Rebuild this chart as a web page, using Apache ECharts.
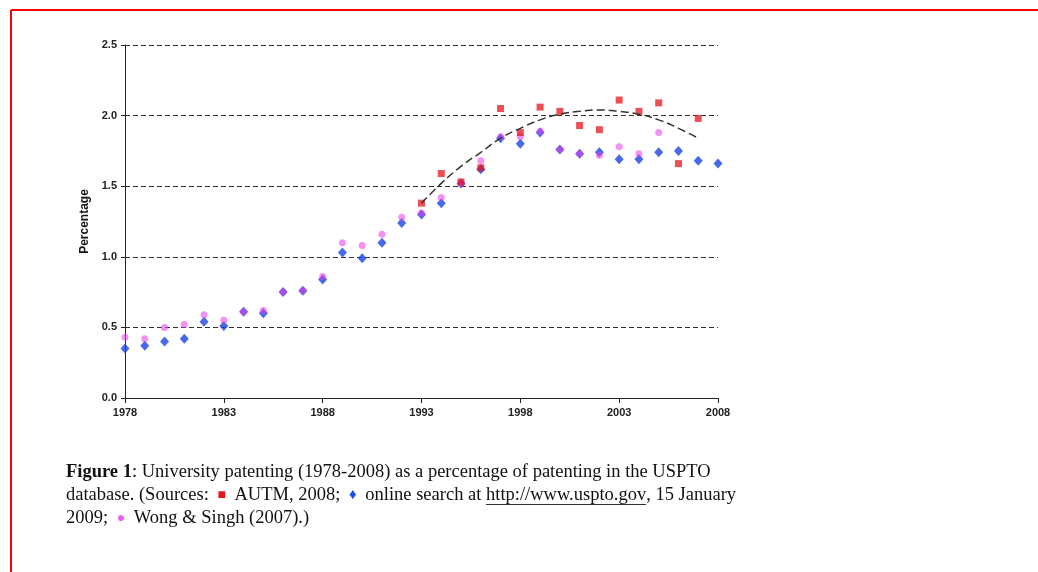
<!DOCTYPE html>
<html><head><meta charset="utf-8">
<script src="https://cdn.jsdelivr.net/npm/echarts@6/dist/echarts.min.js"></script>
<style>html,body{margin:0;padding:0;background:#fff}#c{width:1038px;height:572px}</style>
</head><body><div id="c"></div>
<script>
const years = ['1978','1979','1980','1981','1982','1983','1984','1985','1986','1987','1988','1989','1990','1991','1992','1993','1994','1995','1996','1997','1998','1999','2000','2001','2002','2003','2004','2005','2006','2007','2008'];
const uspto = [0.35,0.37,0.40,0.42,0.54,0.51,0.61,0.60,0.75,0.76,0.84,1.03,0.99,1.10,1.24,1.30,1.38,1.52,1.62,1.84,1.80,1.88,1.76,1.73,1.74,1.69,1.69,1.74,1.75,1.68,1.66];
const wongSingh = [0.43,0.42,0.50,0.52,0.59,0.55,0.61,0.62,0.75,0.76,0.86,1.10,1.08,1.16,1.28,1.31,1.42,1.52,1.68,1.85,1.85,1.89,1.76,1.73,1.72,1.78,1.73,1.88,null,null,null];
const autm = [null,null,null,null,null,null,null,null,null,null,null,null,null,null,null,1.38,1.59,1.53,1.63,2.05,1.88,2.06,2.03,1.93,1.90,2.11,2.03,2.09,1.66,1.98,null];
const trend = [null,null,null,null,null,null,null,null,null,null,null,null,null,null,null,1.38,1.52,1.64,1.74,1.84,1.91,1.97,2.01,2.03,2.04,2.03,2.01,1.97,1.91,1.84,null];
const yTicks = ['0.0','0.5','1.0','1.5','2.0','2.5'];

const capFont = 'Liberation Serif';
const capSize = 18.5;
const symPad = 4;
const line1 = '{b|Figure 1}: University patenting (1978-2008) as a percentage of patenting in the USPTO';
const line2 = 'database. (Sources: {r|■} AUTM, 2008; {d|♦} online search at {u|http://www.uspto.gov}, 15 January';
const line3 = '2009; {p|●} Wong & Singh (2007).)';

const cv = document.createElement('canvas').getContext('2d');
function w(t, size){ cv.font = size + 'px "' + capFont + '"'; return cv.measureText(t).width; }
const ulStart = 66 + w('database. (Sources: ',capSize) + w('■',14) + 2*symPad + w(' AUTM, 2008; ',capSize) + w('♦',15) + 2*symPad + w(' online search at ',capSize);
const ulEnd = ulStart + w('http://www.uspto.gov',capSize);

const richBase = {fontSize:capSize, fontFamily:capFont, fill:'#111'};
const rich = {
  b:{fontSize:capSize, fontFamily:capFont, fontWeight:'bold', fill:'#111'},
  r:{fontSize:14, fontFamily:capFont, fill:'#e8141e', padding:[0,symPad]},
  d:{fontSize:15, fontFamily:capFont, fill:'#1d4de8', padding:[0,symPad]},
  p:{fontSize:14, fontFamily:capFont, fill:'#f060f0', padding:[0,symPad]},
  u:{fontSize:capSize, fontFamily:capFont, fill:'#111'}
};

const chart = echarts.init(document.getElementById('c'), null, {renderer:'canvas'});
chart.setOption({
  animation:false,
  backgroundColor:'#fff',
  grid:{left:125, right:320, top:45, bottom:174},
  xAxis:{
    type:'category', data:years, boundaryGap:false,
    axisLine:{lineStyle:{color:'#222', width:1}},
    axisTick:{interval:4, length:5, lineStyle:{color:'#222'}},
    axisLabel:{interval:4, margin:9, color:'#222', fontSize:11, fontWeight:'bold', fontFamily:'Liberation Sans'},
    splitLine:{show:false}
  },
  yAxis:{
    type:'value', min:0, max:2.5, interval:0.5,
    name:'Percentage', nameLocation:'middle', nameGap:32, nameRotate:90,
    nameTextStyle:{color:'#111', fontSize:12, fontWeight:'bold', fontFamily:'Liberation Sans'},
    axisLine:{show:true, lineStyle:{color:'#222', width:1}},
    axisTick:{show:true, length:4, lineStyle:{color:'#222'}},
    axisLabel:{margin:8, color:'#222', fontSize:11, fontWeight:'bold', fontFamily:'Liberation Sans',
      formatter:(v)=>yTicks[Math.round(v/0.5)]},
    splitLine:{show:true, lineStyle:{color:'#333', type:[5,3], width:1}}
  },
  series:[
    {type:'scatter', name:'USPTO', data:uspto, symbol:'diamond', symbolSize:[9,10], itemStyle:{color:'#1a44e4'}, z:2},
    {type:'scatter', name:'Wong & Singh', data:wongSingh, symbol:'circle', symbolSize:7, itemStyle:{color:'rgba(236,60,236,0.7)'}, z:3},
    {type:'scatter', name:'AUTM', data:autm, symbol:'rect', symbolSize:7, itemStyle:{color:'rgba(230,16,26,0.92)'}, z:4},
    {type:'line', name:'Trend', data:trend, smooth:true, symbol:'none', connectNulls:false,
      lineStyle:{color:'#333', width:1.5, type:[8,4]}, z:5}
  ],
  graphic:[
    {type:'line', shape:{x1:11, y1:10, x2:1038, y2:10}, style:{stroke:'#ff0000', lineWidth:2}, silent:true},
    {type:'line', shape:{x1:11, y1:10, x2:11, y2:572}, style:{stroke:'#ff0000', lineWidth:2}, silent:true},
    {type:'text', x:66, y:472, style:Object.assign({text:line1, verticalAlign:'middle', rich:rich}, richBase)},
    {type:'text', x:66, y:495, style:Object.assign({text:line2, verticalAlign:'middle', rich:rich}, richBase)},
    {type:'text', x:66, y:518, style:Object.assign({text:line3, verticalAlign:'middle', rich:rich}, richBase)},
    {type:'line', shape:{x1:ulStart, y1:504.5, x2:ulEnd, y2:504.5}, style:{stroke:'#333', lineWidth:1}, silent:true}
  ]
});
</script></body></html>
